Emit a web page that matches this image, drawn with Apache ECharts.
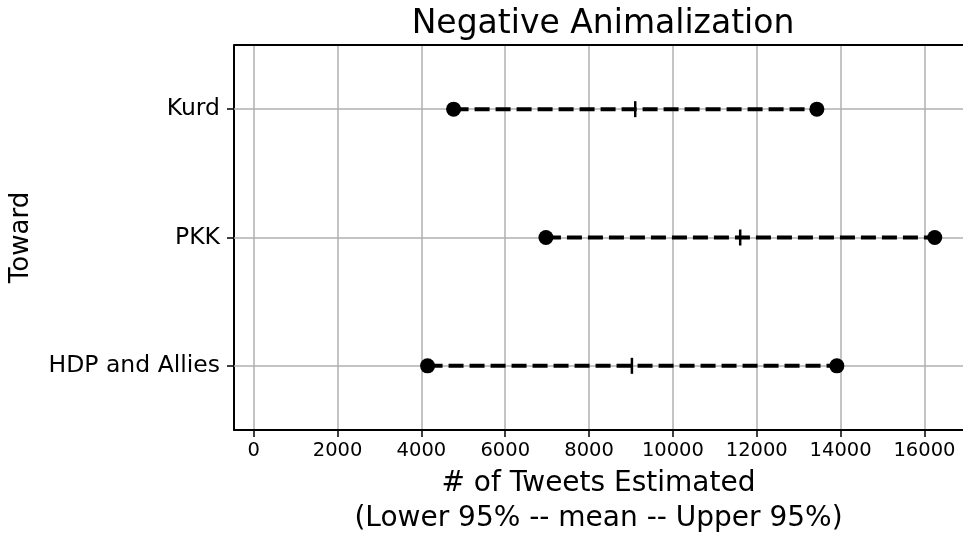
<!DOCTYPE html>
<html><head><meta charset="utf-8">
<script src="https://cdn.jsdelivr.net/npm/echarts@6/dist/echarts.min.js"></script>
<style>html,body{margin:0;padding:0;background:#fff}#c{width:963px;height:537px}</style>
</head><body><div id="c"></div>
<script>
const categories = ['Kurd', 'PKK', 'HDP and Allies'];
const lower = [4768, 6971, 4147];
const mean = [9101, 11605, 9022];
const upper = [13434, 16246, 13911];
const xTicks = [0, 2000, 4000, 6000, 8000, 10000, 12000, 14000, 16000];

const FONT = 'DejaVu Sans';
const chart = echarts.init(document.getElementById('c'));
const series = [];
// horizontal grid lines at the category centres, drawn beneath the marks
series.push({
  type: 'line', data: [], silent: true, z: 1,
  markLine: {
    silent: true, symbol: 'none', label: { show: false }, animation: false, z: 1,
    lineStyle: { color: '#b0b0b0', width: 1.5, type: 'solid' },
    data: categories.map(cc => ({ yAxis: cc }))
  }
});
categories.forEach((c, i) => {
  series.push({
    type: 'line', data: [[lower[i], c], [upper[i], c]], showSymbol: false, silent: true,
    color: '#000',
    lineStyle: { color: '#000', width: 4, type: [15, 6], opacity: 1 }, z: 3
  });
});
series.push({
  type: 'scatter', symbol: 'circle', symbolSize: 15, itemStyle: { color: '#000', opacity: 1 }, z: 4,
  data: categories.flatMap((c, i) => [[lower[i], c], [upper[i], c]])
});
series.push({
  type: 'scatter', symbol: 'rect', symbolSize: [2.5, 16], itemStyle: { color: '#000', opacity: 1 }, z: 5,
  data: categories.map((c, i) => [mean[i], c])
});

chart.setOption({
  animation: false,
  title: { text: 'Negative Animalization', left: 598, textAlign: 'center', top: 3,
    textStyle: { fontFamily: FONT, fontSize: 33, fontWeight: 'normal', color: '#000' } },
  grid: { left: 234, right: 0, top: 45, bottom: 107, outerBoundsMode: 'none', containLabel: false },
  xAxis: {
    type: 'value', min: -470, max: 16920, minInterval: 2000, maxInterval: 2000,
    axisLine: { show: true, onZero: false, lineStyle: { color: '#000', width: 2 } },
    axisTick: { show: true, length: 7, lineStyle: { color: '#000', width: 1.5 }, customValues: xTicks },
    axisLabel: { color: '#000', fontFamily: FONT, fontSize: 19.5, margin: 11, customValues: xTicks,
      formatter: v => String(v) },
    splitLine: { show: true, lineStyle: { color: '#b0b0b0', width: 1.5 } },
    name: '# of Tweets Estimated\n(Lower 95% -- mean -- Upper 95%)', nameLocation: 'middle', nameGap: 34,
    nameTextStyle: { fontFamily: FONT, fontSize: 28, color: '#000', lineHeight: 35 }
  },
  yAxis: {
    type: 'category', data: categories, inverse: true,
    axisLine: { show: true, onZero: false, lineStyle: { color: '#000', width: 2 } },
    axisTick: { show: true, alignWithLabel: true, length: 7, lineStyle: { color: '#000', width: 1.5 } },
    axisLabel: { color: '#000', fontFamily: FONT, fontSize: 23.5, margin: 14 },
    splitLine: { show: false },
    name: 'Toward', nameLocation: 'middle', nameGap: 200, nameRotate: 90,
    nameTextStyle: { fontFamily: FONT, fontSize: 26, color: '#000' }
  },
  series: series
});
chart.setOption({
  graphic: [{ type: 'line', shape: { x1: 234, y1: 45, x2: 963, y2: 45 }, style: { stroke: '#000', lineWidth: 2 } }]
});
</script></body></html>
